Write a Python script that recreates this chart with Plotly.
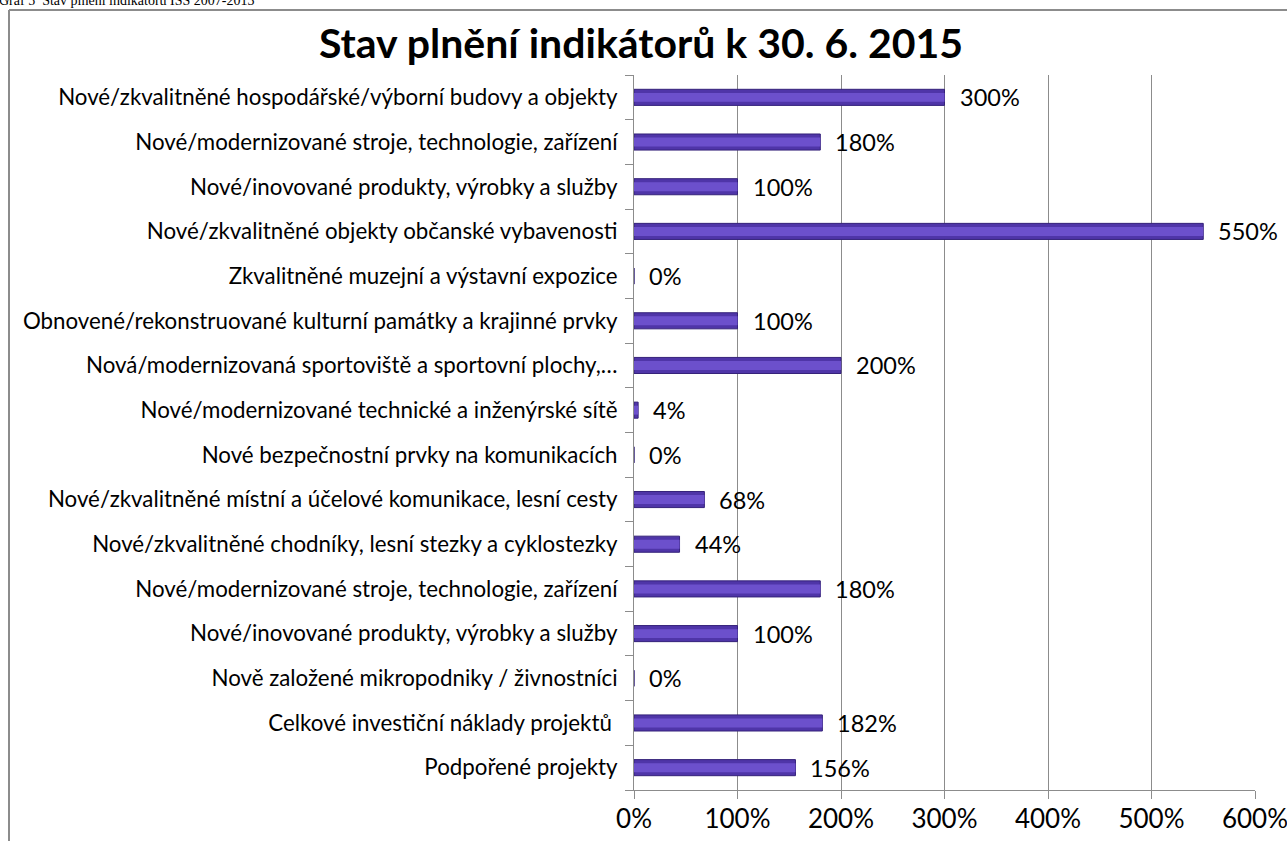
import plotly.graph_objects as go

# categories from top to bottom, as in the picture
labels = [
    "Nové/zkvalitněné hospodářské/výborní budovy a objekty",
    "Nové/modernizované stroje, technologie, zařízení",
    "Nové/inovované produkty, výrobky a služby",
    "Nové/zkvalitněné objekty občanské vybavenosti",
    "Zkvalitněné muzejní a výstavní expozice",
    "Obnovené/rekonstruované kulturní památky a krajinné prvky",
    "Nová/modernizovaná sportoviště a sportovní plochy,…",
    "Nové/modernizované technické a inženýrské sítě",
    "Nové bezpečnostní prvky na komunikacích",
    "Nové/zkvalitněné místní a účelové komunikace, lesní cesty",
    "Nové/zkvalitněné chodníky, lesní stezky a cyklostezky",
    "Nové/modernizované stroje, technologie, zařízení",
    "Nové/inovované produkty, výrobky a služby",
    "Nově založené mikropodniky / živnostníci",
    "Celkové investiční náklady projektů ",
    "Podpořené projekty",
]
values = [3.00, 1.80, 1.00, 5.50, 0.00, 1.00, 2.00, 0.04, 0.00, 0.68, 0.44, 1.80, 1.00, 0.00, 1.82, 1.56]
x_ticks = [0, 1, 2, 3, 4, 5, 6]
x_ticktext = ["0%", "100%", "200%", "300%", "400%", "500%", "600%"]

n = len(labels)
ypos = list(range(n - 1, -1, -1))  # first label at top

font = "Lato, 'Open Sans', sans-serif"

fig = go.Figure()
# bar body with darker bevel edges, then a lighter face on top
fig.add_trace(go.Bar(
    x=values, y=ypos, orientation="h", width=0.36,
    marker=dict(color="#4f35a8", line=dict(color="#35227a", width=1)),
    hoverinfo="skip",
))
fig.add_trace(go.Bar(
    x=values, y=ypos, orientation="h", width=0.2,
    marker=dict(color="#6c50cc", line=dict(width=0)),
    hoverinfo="skip",
))

# value labels next to the bar ends
for v, y in zip(values, ypos):
    fig.add_annotation(
        x=v, y=y, xref="x", yref="y", text=f"{round(v * 100)}%",
        xanchor="left", yanchor="middle", xshift=13, showarrow=False,
        font=dict(family=font, size=23.5, color="#000"),
    )

FW, FH = 1287, 841
# plot area in page pixels: x 634..1255, y 75..790
px0, px1, py0, py1 = 634, 1255, 75, 790
W, H = px1 - px0, py1 - py0


def pxx(x):
    return (x - px0) / W


def pxy(y):
    return (py1 - y) / H


fig.update_layout(
    width=FW, height=FH,
    margin=dict(l=px0, r=FW - px1, t=py0, b=FH - py1, autoexpand=False),
    paper_bgcolor="white", plot_bgcolor="white",
    showlegend=False, barmode="overlay",
    xaxis=dict(
        range=[0, 6], tickvals=x_ticks, ticktext=x_ticktext,
        showgrid=True, gridcolor="#8c8c8c", gridwidth=1,
        zeroline=False, showline=True, linecolor="#8c8c8c", linewidth=1,
        ticks="outside", ticklen=8, tickcolor="#8c8c8c",
        tickfont=dict(family=font, size=26, color="#000"),
        ticklabelstandoff=-2, automargin=False, ticklabeloverflow="allow",
    ),
    yaxis=dict(
        range=[-0.5, n - 0.5], tickvals=ypos, ticktext=labels,
        showgrid=False, zeroline=False,
        showline=True, linecolor="#8c8c8c", linewidth=1,
        ticks="", ticklabelstandoff=11, automargin=False,
        tickfont=dict(family=font, size=22.3, color="#000"),
        minor=dict(ticks="outside", tick0=0.5, dtick=1, ticklen=8,
                   tickcolor="#8c8c8c", showgrid=False),
    ),
    title=dict(
        text="<b>Stav plnění indikátorů k 30. 6. 2015</b>",
        x=641 / FW, xref="container", xanchor="center",
        y=1 - 44 / FH, yanchor="middle",
        font=dict(family=font, size=41, color="#000"),
    ),
)

# chart border (left and top edges; the rest runs off the page)
border = dict(color="#8c8c8c", width=2)
fig.add_shape(type="line", xref="paper", yref="paper",
              x0=pxx(9), x1=pxx(9), y0=pxy(846), y1=pxy(10), line=border)
fig.add_shape(type="line", xref="paper", yref="paper",
              x0=pxx(9), x1=pxx(1290), y0=pxy(10), y1=pxy(10), line=border)

# caption above the chart, mostly cut off at the top of the page
fig.add_annotation(
    text="Graf 5  Stav plnění indikátorů ISS 2007-2013",
    xref="paper", yref="paper", x=pxx(-3), y=pxy(0),
    xanchor="left", yanchor="middle", showarrow=False,
    font=dict(family="'Liberation Serif', serif", size=14, color="#000"),
)

# no page margin, so the figure sits flush with the window corner
fig.write_html("out.html", config={"displayModeBar": False},
               post_script="document.body.style.margin = '0px';")
